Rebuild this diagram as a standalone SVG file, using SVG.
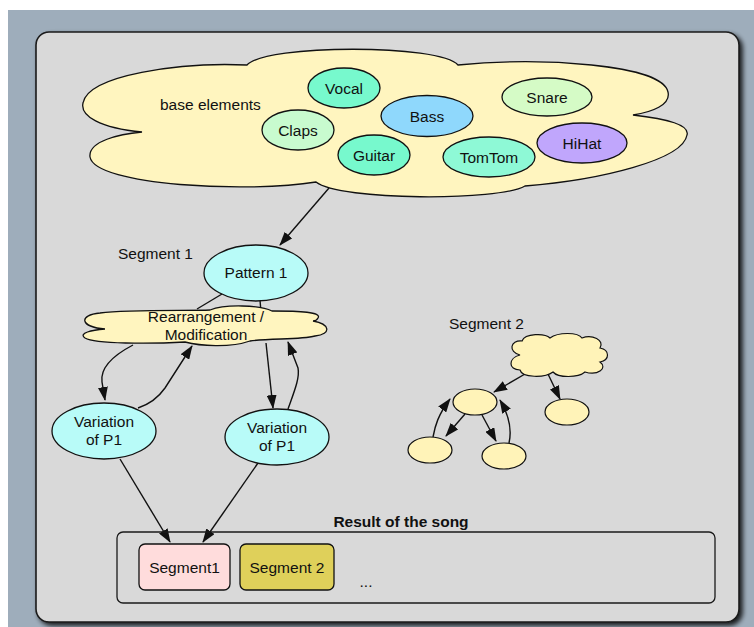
<svg xmlns="http://www.w3.org/2000/svg" width="754" height="627" viewBox="0 0 754 627">
  <style>
    text { font-family: "Liberation Sans", Arial, Helvetica, sans-serif; font-size: 15.5px; fill: #111; }
    .c { text-anchor: middle; }
    .b { font-weight: bold; }
    .node { stroke: #111; stroke-width: 1.3; }
    .cloud { fill: #fff5bf; stroke: #111; stroke-width: 1.3; }
    .cyan { fill: #b8fbf8; }
    .small { fill: #fff3b8; stroke: #111; stroke-width: 1.2; }
    .edge { fill: none; stroke: #111; stroke-width: 1.4; }
    .arrow { marker-end: url(#ah); }
  </style>
  <defs>
    <marker id="ah" markerWidth="14" markerHeight="10" refX="13" refY="5" orient="auto" markerUnits="userSpaceOnUse">
      <path d="M0,0 L14,5 L0,10 z" fill="#111"/>
    </marker>
    <filter id="shadow" x="-5%" y="-5%" width="110%" height="110%">
      <feGaussianBlur in="SourceAlpha" stdDeviation="2.5"/>
      <feOffset dx="3" dy="3" result="blur"/>
      <feComponentTransfer><feFuncA type="linear" slope="0.85"/></feComponentTransfer>
      <feMerge><feMergeNode/><feMergeNode in="SourceGraphic"/></feMerge>
    </filter>
  </defs>

  <!-- backdrop -->
  <rect x="0" y="0" width="754" height="627" fill="#ffffff"/>
  <rect x="8" y="10" width="746" height="617" fill="#9eadbb"/>

  <!-- main panel -->
  <rect x="36" y="32" width="703" height="590" rx="13" fill="#d9d9d9" stroke="#1a1a1a" stroke-width="1.6" filter="url(#shadow)"/>

  <!-- base elements cloud -->
  <g id="base-elements">
    <path class="cloud" d="M247,65 C266,44 440,44 458,65 C540,57 662,64 668,92 C671,105 652,112 633,115 C668,119 690,125 687,135 C683,160 600,180 525,186 C500,201 340,201 316,182 C250,193 95,186 90,157 C88,141 120,134 142,132 C100,128 80,116 83,103 C88,75 180,62 247,65 Z"/>
    <text x="160" y="110">base elements</text>
  </g>
  <g id="vocal">
    <ellipse class="node" cx="344" cy="88" rx="36" ry="20" fill="#77f9cd"/>
    <text class="c" x="344" y="93.5">Vocal</text>
  </g>
  <g id="claps">
    <ellipse class="node" cx="298" cy="130" rx="36" ry="20" fill="#c8fbcf"/>
    <text class="c" x="298" y="135.5">Claps</text>
  </g>
  <g id="bass">
    <ellipse class="node" cx="427" cy="116" rx="46" ry="20.5" fill="#8fd8fc"/>
    <text class="c" x="427" y="121.5">Bass</text>
  </g>
  <g id="snare">
    <ellipse class="node" cx="547" cy="97" rx="45" ry="19" fill="#d5fbc6"/>
    <text class="c" x="547" y="102.5">Snare</text>
  </g>
  <g id="guitar">
    <ellipse class="node" cx="374" cy="155" rx="36" ry="20" fill="#77f9cd"/>
    <text class="c" x="374" y="160.5">Guitar</text>
  </g>
  <g id="tomtom">
    <ellipse class="node" cx="489" cy="157" rx="46" ry="20" fill="#8ef9d6"/>
    <text class="c" x="489" y="162.5">TomTom</text>
  </g>
  <g id="hihat">
    <ellipse class="node" cx="582" cy="143" rx="45" ry="20" fill="#c0a6fc"/>
    <text class="c" x="582" y="148.5">HiHat</text>
  </g>

  <!-- connectors -->
  <g id="connectors">
    <!-- base elements to Pattern 1 -->
    <path class="edge arrow" d="M329,188 L280,245"/>
    <!-- Pattern 1 into the rearrangement cloud -->
    <path class="edge" d="M222,294 L197,309"/>
    <path class="edge" d="M260,300 L261,312"/>
    <!-- rearrangement loops -->
    <path class="edge arrow" d="M133,345 C112,356 100,368 102,382 L105,400"/>
    <path class="edge arrow" d="M138,408 C150,404 158,398 165,388 L192,346"/>
    <path class="edge arrow" d="M266,343 L273,408"/>
    <path class="edge arrow" d="M288,409 C294,392 300,378 298,368 L288,342"/>
    <!-- variations to the song result -->
    <path class="edge arrow" d="M120,459 L170,542"/>
    <path class="edge arrow" d="M258,463 L203,542"/>
    <!-- segment 2 sketch -->
    <path class="edge arrow" d="M525,374 L494,392"/>
    <path class="edge arrow" d="M548,374 L560,399"/>
    <path class="edge arrow" d="M465,414 L446,436"/>
    <path class="edge arrow" d="M482,415 L496,441"/>
    <path class="edge arrow" d="M433,437 C435,426 438,415 450,399"/>
    <path class="edge arrow" d="M509,443 C512,430 510,417 500,400"/>
  </g>

  <!-- segment 1 -->
  <text x="118" y="259">Segment 1</text>
  <g id="pattern1">
    <ellipse class="node cyan" cx="256" cy="273" rx="52" ry="28"/>
    <text class="c" x="256" y="278">Pattern 1</text>
  </g>
  <g id="rearrangement">
    <path class="cloud" d="M105,329 C80,327 78,315 100,313 C130,309 190,311 210,310 C225,304 260,305 272,311 C300,311 322,312 318,318 C317,320 315,321 313,321 C330,324 332,334 315,336 C300,340 270,338 250,341 C230,348 200,346 185,342 C150,344 95,344 85,338 C78,333 92,330 105,329 Z"/>
    <text class="c" x="206" y="322">Rearrangement /</text>
    <text class="c" x="206" y="340">Modification</text>
  </g>
  <g id="variation-left">
    <ellipse class="node cyan" cx="104" cy="431" rx="52" ry="28"/>
    <text class="c" x="104" y="427">Variation</text>
    <text class="c" x="104" y="445">of P1</text>
  </g>
  <g id="variation-right">
    <ellipse class="node cyan" cx="277" cy="437" rx="52" ry="28"/>
    <text class="c" x="277" y="433">Variation</text>
    <text class="c" x="277" y="451">of P1</text>
  </g>

  <!-- segment 2 -->
  <text x="449" y="329">Segment 2</text>
  <g id="seg2-cloud">
    <path class="small" d="M520,355 C508,352 510,340 522,341 C525,333 545,333 550,338 C558,332 578,332 582,338 C592,334 605,340 600,348 C610,350 610,360 600,362 C608,368 598,376 585,372 C578,378 558,378 553,372 C545,378 522,378 520,370 C508,370 508,358 520,355 Z"/>
  </g>
  <g id="seg2-a"><ellipse class="small" cx="475" cy="402" rx="22" ry="13"/></g>
  <g id="seg2-b"><ellipse class="small" cx="567" cy="412" rx="22" ry="13"/></g>
  <g id="seg2-c"><ellipse class="small" cx="430" cy="450" rx="22" ry="13"/></g>
  <g id="seg2-d"><ellipse class="small" cx="504" cy="456" rx="22" ry="13"/></g>

  <!-- result of the song -->
  <g id="result">
    <text class="c b" x="401" y="527">Result of the song</text>
    <rect x="117" y="532" width="598" height="71" rx="6" fill="none" stroke="#1a1a1a" stroke-width="1.3"/>
    <text class="c" x="366" y="587">...</text>
  </g>
  <g id="segment1-box">
    <rect class="node" x="139" y="544" width="91" height="46" rx="6" fill="#ffdcdc"/>
    <text class="c" x="184.5" y="573">Segment1</text>
  </g>
  <g id="segment2-box">
    <rect class="node" x="240" y="544" width="94" height="46" rx="6" fill="#dfd05a"/>
    <text class="c" x="287" y="573">Segment 2</text>
  </g>
</svg>
